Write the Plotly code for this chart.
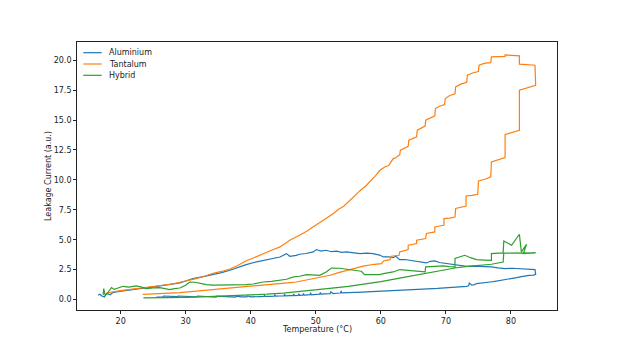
import plotly.graph_objects as go

# ---------------- data ----------------
alu_x = [16.5, 16.8, 17.1, 17.5, 17.8, 18.0, 18.4, 18.8, 19.3, 20.0, 20.9, 21.8, 22.9, 24.0, 25.5,
         26.5, 28.0, 29.1, 30.0, 31.1, 32.5, 34.2, 35.5, 36.8, 38.0, 39.3, 40.5, 41.9, 43.2, 44.5,
         45.5, 46.0, 47.0, 47.5, 48.5, 49.6, 50.1, 50.8, 51.6, 52.4, 53.2, 54.0, 54.7, 55.8, 56.8,
         57.8, 58.8, 59.8, 60.4, 61.2, 61.9, 62.3, 62.9, 63.7, 64.5, 65.5, 66.2, 67.0, 67.6, 68.3,
         69.0, 69.6, 70.6, 71.6, 72.4, 73.2, 74.2, 75.2, 76.1, 77.0, 78.0, 79.1, 80.2, 81.4, 82.5,
         83.7, 83.8,
         83.5, 82.8, 82.3, 81.6, 80.9, 80.3, 79.8, 79.3, 78.8, 78.3, 77.8, 77.3, 76.8, 76.2, 75.7,
         75.2, 74.7, 74.4, 74.0, 73.6, 73.5, 73.2, 72.6, 72.0, 71.3, 70.6, 70.0, 69.3, 68.7, 68.0,
         67.4, 66.8, 66.2, 65.5, 64.9, 64.2, 63.6, 62.9, 62.2, 61.6, 61.0, 60.4, 59.8, 59.1, 58.5,
         57.8, 57.2, 56.5, 55.9, 55.2, 54.6, 54.0, 53.9, 53.8, 53.3, 52.7, 52.3, 52.2, 51.4, 50.8,
         50.7, 50.6, 50.1, 49.3, 49.2, 49.1, 48.8, 48.2, 48.1, 48.0, 47.5, 47.4, 47.3, 46.7, 46.6,
         46.5, 46.0, 45.3, 45.2, 45.1, 44.5, 43.8, 43.7, 43.6, 43.0, 42.2, 42.1, 42.0, 41.5, 40.8,
         40.0, 39.5, 39.4, 38.5, 37.8, 37.7, 37.0, 36.2, 35.5, 34.8, 34.7, 34.0, 33.2, 32.5, 31.8,
         31.7, 31.0, 30.2, 29.5, 28.8, 28.7, 28.0, 27.0, 26.6, 26.5, 26.0, 25.5]
alu_y = [0.36, 0.44, 0.30, 0.22, 0.48, 0.50, 0.40, 0.58, 0.64, 0.70, 0.78, 0.84, 0.92, 0.98, 1.11,
         1.18, 1.35, 1.40, 1.55, 1.75, 1.90, 2.09, 2.25, 2.45, 2.70, 2.92, 3.10, 3.28, 3.40, 3.56,
         3.84, 3.62, 3.70, 3.79, 3.85, 3.98, 4.18, 4.05, 4.12, 4.00, 4.04, 3.95, 3.98, 3.90, 3.84,
         3.88, 3.84, 3.72, 3.56, 3.58, 3.51, 3.62, 3.34, 3.35, 3.28, 3.14, 3.12, 3.06, 3.20, 3.23,
         3.10, 3.06, 2.95, 2.87, 2.82, 2.78, 2.80, 2.78, 2.70, 2.73, 2.65, 2.59, 2.62, 2.59, 2.55,
         2.51, 2.11,
         2.05, 2.02, 2.00, 1.92, 1.84, 1.78, 1.70, 1.66, 1.61, 1.58, 1.55, 1.50, 1.47, 1.43, 1.40,
         1.36, 1.34, 1.25, 1.20, 1.38, 1.15, 1.11, 1.08, 1.05, 1.02, 1.00, 0.97, 0.95, 0.93, 0.92,
         0.90, 0.88, 0.86, 0.84, 0.82, 0.80, 0.79, 0.78, 0.76, 0.74, 0.73, 0.72, 0.70, 0.68, 0.66,
         0.64, 0.63, 0.62, 0.60, 0.59, 0.57, 0.56, 0.72, 0.55, 0.53, 0.50, 0.64, 0.49, 0.47, 0.46,
         0.60, 0.45, 0.44, 0.40, 0.58, 0.41, 0.40, 0.38, 0.52, 0.37, 0.36, 0.50, 0.35, 0.34, 0.46,
         0.33, 0.33, 0.31, 0.44, 0.30, 0.30, 0.29, 0.38, 0.28, 0.27, 0.26, 0.35, 0.26, 0.25, 0.24,
         0.23, 0.30, 0.22, 0.22, 0.28, 0.21, 0.22, 0.22, 0.22, 0.28, 0.21, 0.22, 0.22, 0.23, 0.30,
         0.23, 0.25, 0.25, 0.26, 0.30, 0.24, 0.25, 0.24, 0.30, 0.22, 0.22, 0.20]

tan_x = [17.8, 18.5, 19.3, 20.0, 21.5, 23.0, 24.0, 25.5, 27.0, 28.0, 29.1, 30.5, 31.6, 32.9, 34.2,
         35.5, 36.8, 38.0, 39.3, 40.5, 41.9, 43.2, 44.5, 45.3, 46.0, 47.5, 48.6, 49.5, 50.1, 51.0,
         51.8, 52.7, 53.5, 54.3, 55.2, 56.0, 56.8, 57.6, 58.5, 59.2, 59.85, 60.6, 61.2, 61.9, 62.3,
         62.9, 63.0, 63.6, 64.2, 64.3, 65.0, 65.5, 65.6, 66.3, 66.8, 66.9, 67.6, 68.3, 68.4, 69.0,
         69.8, 69.9, 70.6, 71.4, 71.5, 72.3, 73.2, 73.3, 74.2, 75.0, 75.1, 76.0, 76.9, 77.0, 78.0,
         79.1, 79.1, 80.2, 81.3, 81.3, 82.5, 83.7, 83.8,
         82.5, 81.3, 81.3, 80.2, 79.1, 79.1, 78.0, 77.0, 76.9, 76.0, 75.0, 74.9, 74.0, 73.1, 73.1,
         72.3, 71.5, 71.4, 70.6, 69.7, 69.7, 69.0, 68.3, 68.3, 67.6, 67.0, 66.9, 66.2, 65.5, 65.5,
         64.9, 64.2, 64.2, 63.5, 62.9, 62.8, 62.2, 61.6, 61.4, 60.8, 60.4, 60.1, 59.0, 57.3, 56.0,
         54.7, 53.5, 52.2, 51.0, 49.6, 48.3, 47.0, 45.7, 44.5, 43.2, 41.9, 40.6, 39.3, 38.0, 36.8,
         35.5, 34.2, 33.0, 31.6, 30.4, 29.1, 27.5, 26.0, 24.5, 23.4]
tan_y = [0.55, 0.62, 0.70, 0.75, 0.85, 0.95, 1.00, 1.10, 1.22, 1.30, 1.45, 1.60, 1.75, 1.95, 2.20,
         2.35, 2.55, 2.85, 3.25, 3.50, 3.84, 4.12, 4.40, 4.70, 4.96, 5.37, 5.70, 6.05, 6.25, 6.55,
         6.85, 7.19, 7.55, 7.80, 8.30, 8.70, 9.10, 9.45, 9.95, 10.35, 10.80, 11.08, 11.20, 11.78, 11.85,
         12.10, 12.48, 12.65, 12.80, 13.31, 13.50, 13.60, 14.15, 14.35, 14.50, 14.99, 15.20, 15.35, 15.96, 16.15,
         16.30, 16.80, 17.05, 17.20, 17.77, 18.00, 18.15, 18.75, 18.95, 19.05, 19.58, 19.75, 19.80, 20.28, 20.30,
         20.32, 20.45, 20.40, 20.36, 19.67, 19.62, 19.58, 17.90,
         17.70, 17.49, 14.15, 13.95, 13.79, 11.87, 11.70, 11.50, 10.25, 10.05, 9.91, 8.80, 8.70, 8.66, 7.82,
         7.70, 7.61, 6.90, 6.80, 6.77, 6.21, 6.15, 6.07, 5.65, 5.60, 5.52, 5.10, 5.00, 4.96, 4.68,
         4.60, 4.54, 4.18, 4.05, 3.98, 3.70, 3.65, 3.62, 3.34, 3.28, 3.23, 3.00, 2.95, 2.80, 2.62,
         2.45, 2.25, 2.03, 1.90, 1.75, 1.60, 1.47, 1.40, 1.34, 1.27, 1.20, 1.12, 1.05, 0.98, 0.92,
         0.85, 0.78, 0.74, 0.69, 0.64, 0.58, 0.54, 0.50, 0.46, 0.44]

hyb_x = [17.3, 17.4, 17.6, 17.8, 18.3, 18.6, 19.0, 19.8, 20.4, 21.2, 22.4, 23.2, 24.0, 25.0, 26.0,
         26.8, 27.5, 28.3, 29.1, 30.0, 30.6, 31.4, 32.2, 33.2, 34.2, 35.2, 36.8, 37.8, 39.3, 40.4,
         41.9, 43.2, 44.5, 45.5, 46.6, 47.5, 48.6, 49.6, 50.6, 51.6, 52.4, 53.7, 54.2, 55.7, 57.0,
         57.5, 58.5, 59.8, 60.4, 61.9, 62.9, 63.8, 64.9, 66.0, 66.8, 66.9, 68.3, 69.6, 70.5, 71.4,
         71.4, 72.9, 73.8, 74.7, 76.0, 77.0, 77.0, 78.0, 78.8, 78.9, 80.1, 81.3, 81.6, 82.4, 81.9,
         83.0, 83.8,
         78.9, 78.8, 77.0, 74.7, 73.0, 71.4, 69.7, 68.0, 66.0, 64.5, 62.9, 60.0, 57.8, 55.0, 52.5,
         50.0, 47.5, 45.0, 42.5, 40.0, 37.5, 35.0, 32.5, 30.0, 27.5, 25.0, 23.5]
hyb_y = [0.36, 0.92, 0.40, 0.42, 0.78, 1.00, 0.85, 1.00, 1.11, 1.05, 1.14, 1.05, 0.92, 0.98, 1.00,
         0.92, 0.84, 0.92, 0.97, 1.20, 1.47, 1.45, 1.34, 1.25, 1.20, 1.20, 1.20, 1.25, 1.25, 1.30,
         1.47, 1.52, 1.61, 1.70, 1.89, 1.95, 2.09, 2.05, 2.03, 2.31, 2.64, 2.62, 2.59, 2.45, 2.37,
         2.09, 2.10, 2.09, 2.17, 2.31, 2.51, 2.47, 2.45, 2.40, 2.31, 2.73, 2.78, 2.81, 2.76, 2.73,
         3.43, 3.70, 3.50, 3.34, 3.30, 3.28, 3.84, 3.88, 3.90, 4.90, 4.54, 5.46, 3.98, 4.62, 3.84,
         3.88, 3.90,
         3.88, 3.14, 2.95, 2.87, 2.75, 2.64, 2.48, 2.31, 2.15, 2.00, 1.80, 1.50, 1.32, 1.10, 0.95,
         0.80, 0.66, 0.54, 0.45, 0.38, 0.32, 0.27, 0.22, 0.18, 0.15, 0.13, 0.15]

series_names = ["Aluminium", "Tantalum", "Hybrid"]
series_colors = ["#1f77b4", "#ff7f0e", "#2ca02c"]
x_ticks = [20, 30, 40, 50, 60, 70, 80]
y_ticks = [0.0, 2.5, 5.0, 7.5, 10.0, 12.5, 15.0, 17.5, 20.0]
x_title = "Temperature (°C)"
y_title = "Leakage Current (a.u.)"

# ---------------- figure ----------------
W, H = 619, 348
ML, MR, MT, MB = 77, 62, 42, 38
PW, PH = W - ML - MR, H - MT - MB
FONT = "DejaVu Sans"

fig = go.Figure()
for name, col, xs, ys in zip(series_names, series_colors,
                             [alu_x, tan_x, hyb_x], [alu_y, tan_y, hyb_y]):
    fig.add_trace(go.Scatter(x=xs, y=ys, mode="lines", name=name,
                             line=dict(color=col, width=1.2), showlegend=False))

axis_common = dict(showline=True, mirror=True, linecolor="#222", linewidth=0.8,
                   ticks="outside", ticklen=3, tickwidth=0.8, tickcolor="#222",
                   showgrid=False, zeroline=False,
                   tickfont=dict(family=FONT, size=8, color="#222"))
fig.update_xaxes(range=[13.29, 87.08], tickvals=x_ticks,
                 ticktext=[str(v) for v in x_ticks], **axis_common)
fig.update_yaxes(range=[-0.87, 21.52], tickvals=y_ticks,
                 ticktext=[f"{v:.1f}" for v in y_ticks], **axis_common)


def px2paper_x(px):
    return (px - ML) / PW


def px2paper_y(py):
    return (H - MB - py) / PH


annotations = [
    dict(text=x_title, x=0.5, y=px2paper_y(329), xref="paper", yref="paper",
         xanchor="center", yanchor="middle", showarrow=False,
         font=dict(family=FONT, size=8, color="#222")),
    dict(text=y_title, x=px2paper_x(48), y=0.5, xref="paper", yref="paper",
         xanchor="center", yanchor="middle", textangle=-90, showarrow=False,
         font=dict(family=FONT, size=8, color="#222")),
]

# matplotlib-style legend (upper left)
shapes = []
leg_rows = [52.7, 64.0, 75.3]
for name, col, py in zip(series_names, series_colors, leg_rows):
    yy = px2paper_y(py)
    shapes.append(dict(type="line", xref="paper", yref="paper",
                       x0=px2paper_x(83.3), x1=px2paper_x(101.7), y0=yy, y1=yy,
                       line=dict(color=col, width=1.2)))
    annotations.append(dict(text=name, x=px2paper_x(107), y=yy, xref="paper", yref="paper",
                            xanchor="left", yanchor="middle", showarrow=False,
                            font=dict(family=FONT, size=8, color="#222")))

fig.update_layout(width=W, height=H, margin=dict(l=ML, r=MR, t=MT, b=MB),
                  paper_bgcolor="white", plot_bgcolor="white",
                  annotations=annotations, shapes=shapes, showlegend=False)

fig.write_html("out.html")
